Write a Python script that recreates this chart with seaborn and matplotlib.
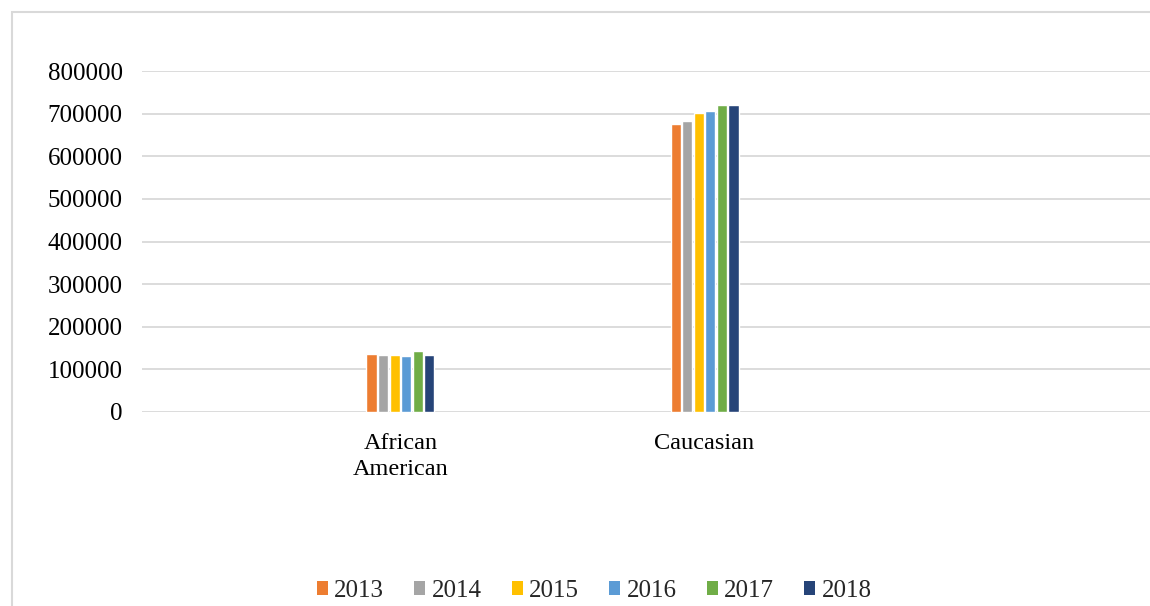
import matplotlib
matplotlib.use("Agg")
import matplotlib.pyplot as plt
import seaborn as sns
import pandas as pd
from matplotlib.patches import Rectangle, Patch

categories = ["African\nAmerican", "Caucasian"]
years = ["2013", "2014", "2015", "2016", "2017", "2018"]
african_american = [135400, 133000, 133000, 132500, 142400, 134000]
caucasian = [675000, 683500, 701500, 707000, 719500, 721000]
yticks = [0, 100000, 200000, 300000, 400000, 500000, 600000, 700000, 800000]
colors = ["#ED7D31", "#A5A5A5", "#FFC000", "#5B9BD5", "#70AD47", "#264478"]

rows = []
for y, a, c in zip(years, african_american, caucasian):
    rows.append({"group": categories[0], "year": y, "value": a})
    rows.append({"group": categories[1], "year": y, "value": c})
df = pd.DataFrame(rows)

sns.set_theme(style="white")
plt.rcParams["font.family"] = ["Liberation Serif", "DejaVu Serif"]

fig = plt.figure(figsize=(11.5, 6.06), dpi=100)
ax = fig.add_axes([142/1150, 1-412/606, 1-142/1150, (412-71)/606])

sns.barplot(data=df, x="group", y="value", hue="year", order=categories,
            hue_order=years, palette=colors, width=0.228, gap=0.12,
            saturation=1, errorbar=None, ax=ax, legend=False)

ax.set_xlim(-0.85, 2.465)
ax.set_ylim(0, 800000)
ax.set_yticks(yticks)
ax.set_yticklabels([str(v) for v in yticks])
ax.yaxis.grid(True, color="#d9d9d9", linewidth=1.3)
ax.set_axisbelow(True)
for s in ax.spines.values():
    s.set_visible(False)
ax.tick_params(axis="y", length=0, pad=14, labelsize=18, labelcolor="#000000")
ax.tick_params(axis="x", length=0, pad=15, labelsize=17.5, labelcolor="#000000")
for lab in ax.get_xticklabels():
    lab.set_linespacing(1.35)
ax.set_xlabel("")
ax.set_ylabel("")

handles = [Patch(facecolor=c, edgecolor="none", label=y) for c, y in zip(colors, years)]
fig.legend(handles=handles, loc="center", bbox_to_anchor=(594/1150, 1-591/606),
           ncol=6, frameon=False, fontsize=18, handlelength=0.45, handleheight=0.45,
           handletextpad=0.25, columnspacing=1.2)

fig.patches.append(Rectangle((12/1150, -0.2), 2, 1.2 - 12/606, transform=fig.transFigure,
                             fill=False, edgecolor="#d9d9d9", linewidth=1.5, zorder=-1))

fig.savefig("out.png", dpi=100)
